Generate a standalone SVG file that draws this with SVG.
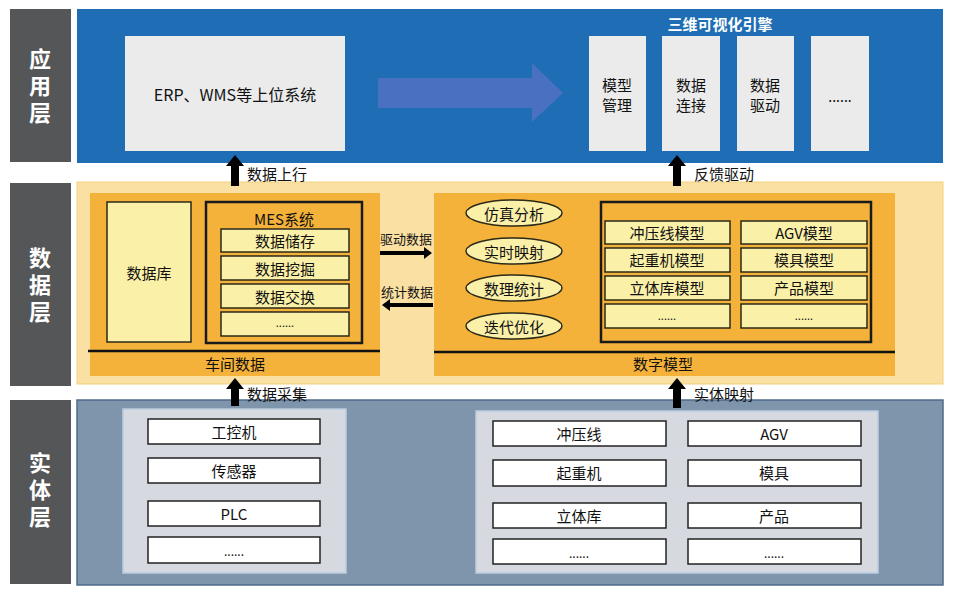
<svg xmlns="http://www.w3.org/2000/svg" width="954" height="594" viewBox="0 0 954 594">
<style>
text{font-family:"Noto Sans CJK SC","Noto Sans",sans-serif;text-anchor:middle;dominant-baseline:central;fill:#111}
.side{fill:#555658}
.sidet{fill:#fff;font-size:22px;font-weight:bold;writing-mode:vertical-rl;letter-spacing:5px}
.lt{fill:#ebebeb}
.t15{font-size:15px}
.t14{font-size:14px}
.cell{fill:#fbf0a8;stroke:#2a2a1a;stroke-width:1.5}
.frame{fill:none;stroke:#1a1a1a;stroke-width:2.5}
.org{fill:#f4b23a}
.ell{fill:#fbf0a8;stroke:#2a2a1a;stroke-width:1.5}
.item{fill:#fff;stroke:#222;stroke-width:1.5}
.gbox{fill:#d6dae0;stroke:#b9cde0;stroke-width:1.5}
.arr{fill:#000}
.lbl{font-size:15px;text-anchor:start}
</style>
<rect width="954" height="594" fill="#fff"/>

<g id="side-labels">
<rect class="side" x="10" y="9" width="61" height="153"/>
<text class="sidet" x="40" y="88">应用层</text>
<rect class="side" x="10" y="183" width="61" height="203"/>
<text class="sidet" x="40" y="287">数据层</text>
<rect class="side" x="10" y="400" width="61" height="184"/>
<text class="sidet" x="40" y="492">实体层</text>
</g>

<g id="app-layer">
<rect x="77" y="9" width="866" height="154" fill="#1f6db4"/>
<g id="erp"><rect class="lt" x="125" y="36" width="220" height="115"/><text x="235" y="94" style="font-size:16px">ERP、WMS等上位系统</text></g>
<polygon points="378,78 532,78 532,63 563,93 532,122 532,108 378,108" fill="#4a70c2"/>
<text x="720" y="23" style="font-size:15px;font-weight:bold;fill:#fff">三维可视化引擎</text>
<g id="e1"><rect class="lt" x="589" y="36" width="57" height="115"/><text class="t15" x="617" y="84">模型</text><text class="t15" x="617" y="104">管理</text></g>
<g id="e2"><rect class="lt" x="662" y="36" width="58" height="115"/><text class="t15" x="691" y="84">数据</text><text class="t15" x="691" y="104">连接</text></g>
<g id="e3"><rect class="lt" x="737" y="36" width="57" height="115"/><text class="t15" x="765" y="84">数据</text><text class="t15" x="765" y="104">驱动</text></g>
<g id="e4"><rect class="lt" x="811" y="36" width="58" height="115"/><text class="t14" x="840" y="96">......</text></g>
</g>

<g id="data-layer">
<rect x="77" y="182" width="866" height="202" fill="#fae0a2" stroke="#f3cf7e" stroke-width="1"/>
<g id="workshop">
<rect class="org" x="90" y="193" width="290" height="183"/>
<line x1="88" y1="351" x2="380" y2="351" stroke="#111" stroke-width="2.5"/>
<text class="t15" x="235" y="363">车间数据</text>
<g id="db"><rect class="cell" x="107" y="202" width="84" height="140"/><text class="t15" x="149" y="272">数据库</text></g>
<g id="mes">
<rect class="frame" x="206" y="202" width="156" height="141"/>
<text class="t15" x="284" y="218">MES系统</text>
<rect class="cell" x="221" y="229" width="128" height="23"/><text class="t15" x="285" y="240">数据储存</text>
<rect class="cell" x="221" y="256" width="128" height="24"/><text class="t15" x="285" y="268">数据挖掘</text>
<rect class="cell" x="221" y="284" width="128" height="24"/><text class="t15" x="285" y="296">数据交换</text>
<rect class="cell" x="221" y="312" width="128" height="24"/><text x="285" y="322" style="font-size:11px">......</text>
</g>
</g>
<g id="digital-model">
<rect class="org" x="434" y="193" width="461" height="183"/>
<line x1="434" y1="352" x2="895" y2="352" stroke="#111" stroke-width="2.5"/>
<text class="t15" x="663" y="363">数字模型</text>
<g id="ops">
<ellipse class="ell" cx="514" cy="213" rx="48" ry="13"/><text class="t15" x="514" y="213">仿真分析</text>
<ellipse class="ell" cx="514" cy="251" rx="48" ry="13"/><text class="t15" x="514" y="251">实时映射</text>
<ellipse class="ell" cx="514" cy="288" rx="48" ry="13"/><text class="t15" x="514" y="288">数理统计</text>
<ellipse class="ell" cx="514" cy="326" rx="48" ry="13"/><text class="t15" x="514" y="326">迭代优化</text>
</g>
<g id="models">
<rect class="frame" x="601" y="202" width="270" height="140"/>
<rect class="cell" x="605" y="221" width="125" height="23"/><text class="t15" x="667" y="232">冲压线模型</text>
<rect class="cell" x="605" y="248" width="125" height="24"/><text class="t15" x="667" y="259">起重机模型</text>
<rect class="cell" x="605" y="276" width="125" height="24"/><text class="t15" x="667" y="287">立体库模型</text>
<rect class="cell" x="605" y="304" width="125" height="24"/><text x="667" y="315" style="font-size:11px">......</text>
<rect class="cell" x="741" y="221" width="126" height="23"/><text class="t15" x="804" y="232">AGV模型</text>
<rect class="cell" x="741" y="248" width="126" height="24"/><text class="t15" x="804" y="259">模具模型</text>
<rect class="cell" x="741" y="276" width="126" height="24"/><text class="t15" x="804" y="287">产品模型</text>
<rect class="cell" x="741" y="304" width="126" height="24"/><text x="804" y="315" style="font-size:11px">......</text>
</g>
</g>
</g>

<g id="entity-layer">
<rect x="77" y="400" width="866" height="185" fill="#7e95ac" stroke="#4f6b8c" stroke-width="1.5"/>
<g id="ctrl">
<rect class="gbox" x="123" y="409" width="223" height="164"/>
<rect class="item" x="148" y="419" width="172" height="25"/><text class="t15" x="234" y="431">工控机</text>
<rect class="item" x="148" y="458" width="172" height="25"/><text class="t15" x="234" y="470">传感器</text>
<rect class="item" x="148" y="501" width="172" height="25"/><text class="t15" x="234" y="513">PLC</text>
<rect class="item" x="148" y="537" width="172" height="26"/><text x="234" y="550" style="font-size:12px">......</text>
</g>
<g id="equip">
<rect class="gbox" x="476" y="411" width="402" height="162"/>
<rect class="item" x="493" y="421" width="173" height="25"/><text class="t15" x="579" y="433">冲压线</text>
<rect class="item" x="493" y="460" width="173" height="26"/><text class="t15" x="579" y="472">起重机</text>
<rect class="item" x="493" y="503" width="173" height="25"/><text class="t15" x="579" y="515">立体库</text>
<rect class="item" x="493" y="539" width="173" height="25"/><text x="579" y="552" style="font-size:12px">......</text>
<rect class="item" x="688" y="421" width="173" height="25"/><text class="t15" x="774" y="433">AGV</text>
<rect class="item" x="688" y="460" width="173" height="26"/><text class="t15" x="774" y="472">模具</text>
<rect class="item" x="688" y="503" width="173" height="25"/><text class="t15" x="774" y="515">产品</text>
<rect class="item" x="688" y="539" width="173" height="25"/><text x="774" y="552" style="font-size:12px">......</text>
</g>
</g>

<g id="connectors">
<polygon class="arr" points="231,186 231,166 226,166 235,155 244,166 239,166 239,186"/>
<text class="lbl" x="247" y="173">数据上行</text>
<polygon class="arr" points="673,186 673,166 668,166 677,155 686,166 681,166 681,186"/>
<text class="lbl" x="694" y="173">反馈驱动</text>
<polygon class="arr" points="231,406 231,389 226,389 235,378 244,389 239,389 239,406"/>
<text class="lbl" x="247" y="393">数据采集</text>
<polygon class="arr" points="673,408 673,389 668,389 677,378 686,389 681,389 681,408"/>
<text class="lbl" x="694" y="393">实体映射</text>
<polygon class="arr" points="380,251 424,251 424,247 432,253 424,259 424,255 380,255"/>
<text x="406" y="238" style="font-size:13px">驱动数据</text>
<polygon class="arr" points="433,303 390,303 390,299 382,305 390,311 390,307 433,307"/>
<text x="407" y="291" style="font-size:13px">统计数据</text>
</g>
</svg>
